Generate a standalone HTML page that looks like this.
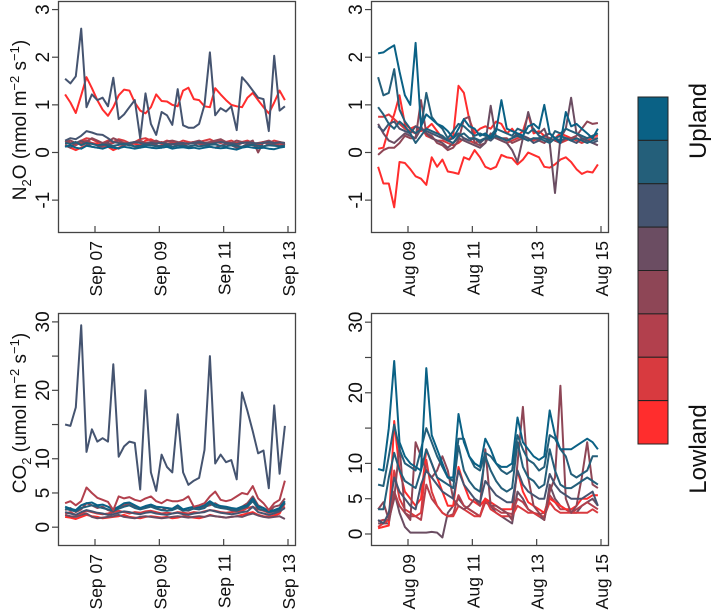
<!DOCTYPE html>
<html><head><meta charset="utf-8"><style>
body{margin:0;background:#fff}
svg{display:block;font-family:"Liberation Sans",Arial,sans-serif}
</style></head><body>
<svg id="chart" width="714" height="613" viewBox="0 0 714 613" xmlns="http://www.w3.org/2000/svg"></svg>
<script>
const seriesColors=["#0a6185","#245f7a","#455470","#6b4d62","#8e4656","#b2404d","#d83a3f","#ff2d2d"];
const legendLabels=["Upland","Lowland"];
const n2oTicks=[-1,0,1,2,3];
const co2Ticks=[0,5,10,15,20,25,30];
const co2TickLabels=["0","5","10","","20","","30"];
const sepDayTicks=[7,9,11,13];
const sepTickLabels=["Sep 07","Sep 09","Sep 11","Sep 13"];
const augDayTicks=[9,11,13,15];
const augTickLabels=["Aug 09","Aug 11","Aug 13","Aug 15"];
const sepStart=6.07, augStart=8.07, stepDays=0.1667;

const n2oSepDark=[1.55,1.45,1.6,2.6,0.95,1.22,1.1,1.15,0.97,1.57,0.7,0.8,0.95,1.1,0.3,1.24,0.6,0.37,0.85,0.78,0.58,1.33,0.57,0.52,0.52,0.6,1.0,2.1,0.78,0.93,0.86,0.97,0.47,1.58,1.45,1.3,1.15,1.12,0.45,2.03,0.88,0.97];
const n2oSepRed=[1.22,1.05,0.83,1.2,1.58,1.35,1.1,0.9,0.77,0.95,1.2,1.32,1.3,1.05,0.88,0.82,0.95,1.22,1.08,1.07,1.0,0.97,1.3,1.36,1.12,1.1,0.97,0.95,1.35,1.22,1.1,1.0,0.97,0.95,1.15,1.25,1.1,0.95,0.82,1.05,1.3,1.1];
const n2oSepL1=[0.12,0.15,0.1,0.08,0.14,0.12,0.1,0.08,0.12,0.1,0.09,0.12,0.1,0.08,0.1,0.12,0.1,0.09,0.1,0.12,0.08,0.1,0.11,0.09,0.1,0.08,0.1,0.12,0.1,0.09,0.1,0.08,0.06,0.1,0.12,0.1,0.09,0.1,0.08,0.07,0.1,0.12];
const n2oSepL2=[0.2,0.18,0.22,0.15,0.2,0.18,0.15,0.17,0.15,0.14,0.16,0.18,0.15,0.13,0.14,0.16,0.15,0.13,0.14,0.16,0.12,0.14,0.15,0.13,0.15,0.13,0.14,0.16,0.17,0.14,0.13,0.15,0.14,0.12,0.15,0.16,0.14,0.13,0.15,0.14,0.13,0.15];
const n2oSepL3=[0.25,0.3,0.28,0.35,0.45,0.42,0.38,0.37,0.3,0.22,0.2,0.18,0.2,0.22,0.2,0.18,0.2,0.19,0.2,0.18,0.17,0.19,0.2,0.18,0.2,0.22,0.2,0.18,0.2,0.22,0.2,0.19,0.18,0.2,0.21,0.2,0.19,0.2,0.22,0.2,0.21,0.2];
const n2oSepL4=[0.15,0.1,0.2,0.25,0.18,0.12,0.1,0.15,0.2,0.12,0.08,0.15,0.18,0.12,0.1,0.15,0.2,0.16,0.1,0.12,0.18,0.15,0.12,0.1,0.15,0.2,0.18,0.12,0.1,0.14,0.18,0.15,0.1,0.12,0.18,0.15,0.1,0.12,0.18,0.16,0.12,0.15];
const n2oSepL5=[0.22,0.25,0.2,0.18,0.22,0.3,0.25,0.2,0.22,0.3,0.25,0.2,0.18,0.22,0.25,0.2,0.22,0.25,0.2,0.23,0.25,0.22,0.2,0.18,0.22,0.25,0.2,0.22,0.25,0.28,0.22,0.2,0.25,0.22,0.2,0.25,0.0,0.22,0.25,0.2,0.22,0.2];
const n2oSepL6=[0.18,0.2,0.15,0.22,0.25,0.2,0.15,0.12,0.18,0.2,0.25,0.18,0.15,0.2,0.22,0.18,0.15,0.2,0.22,0.18,0.2,0.15,0.18,0.2,0.22,0.18,0.15,0.2,0.22,0.25,0.2,0.18,0.15,0.2,0.22,0.18,0.2,0.22,0.18,0.2,0.15,0.18];
const n2oSepL7=[0.25,0.2,0.18,0.25,0.3,0.28,0.22,0.2,0.25,0.22,0.28,0.25,0.2,0.22,0.28,0.3,0.25,0.22,0.2,0.25,0.22,0.2,0.25,0.22,0.2,0.22,0.25,0.28,0.22,0.2,0.22,0.25,0.2,0.22,0.25,0.2,0.18,0.22,0.2,0.25,0.22,0.18];
const n2oSepL8=[0.15,0.1,0.05,0.1,0.15,0.2,0.18,0.15,0.12,0.05,0.1,0.15,0.2,0.18,0.15,0.25,0.28,0.22,0.18,0.15,0.2,0.18,0.15,0.2,0.22,0.18,0.15,0.2,0.22,0.25,0.2,0.18,0.15,0.2,0.22,0.18,0.15,0.2,0.22,0.18,0.2,0.15];

const n2oAugT1=[2.08,2.1,2.18,2.25,1.7,1.2,1.0,2.3,0.55,0.8,0.7,0.6,0.55,0.45,0.3,0.5,0.7,0.55,0.5,0.35,0.4,0.3,0.45,1.1,0.5,0.45,0.4,0.35,0.55,0.6,0.5,1.0,0.4,0.3,0.2,0.85,0.55,0.6,0.5,0.4,0.3,0.5];
const n2oAugT2=[1.58,1.2,1.25,1.75,0.9,0.65,0.5,0.4,0.5,1.25,0.75,0.6,0.5,0.3,0.45,0.6,0.55,0.45,0.35,0.4,0.35,0.35,0.5,0.45,0.4,0.35,0.5,0.45,0.4,0.5,0.35,0.3,0.25,0.45,0.4,0.5,0.45,0.4,0.35,0.3,0.35,0.4];
const n2oAugT3=[0.95,0.8,0.6,0.5,0.65,0.55,0.4,0.2,0.35,0.5,0.45,0.4,0.35,0.25,0.2,0.35,0.4,0.3,0.3,0.25,0.3,0.3,0.35,0.3,0.25,0.3,0.35,0.3,0.25,0.3,0.3,0.25,0.2,0.3,0.35,0.3,0.25,0.3,0.25,0.2,0.25,0.3];
const n2oAugP1=[0.55,0.45,0.6,0.65,0.5,0.45,0.4,0.55,0.5,0.45,0.4,0.35,0.3,0.25,0.3,0.4,0.3,0.25,0.3,0.2,0.3,0.25,0.35,0.3,0.25,0.3,0.4,0.35,0.3,0.2,0.25,0.35,0.4,0.3,0.25,0.3,0.25,0.2,0.3,0.25,0.2,0.25];
const n2oAugP2=[0.6,0.4,0.25,0.2,0.3,0.4,0.35,0.3,0.5,0.4,0.3,0.25,0.2,0.1,0.2,0.3,0.25,0.2,0.15,0.1,0.2,0.98,0.3,0.25,0.2,0.05,-0.2,0.3,0.85,0.45,0.4,0.5,0.2,-0.85,0.3,0.5,1.15,0.4,0.3,0.25,0.2,0.15];
const n2oAugM1=[-0.05,0.05,0.1,0.1,0.2,0.35,0.3,0.3,1.1,0.4,0.35,0.2,0.15,0.05,0.1,0.25,0.7,0.75,0.2,0.15,0.2,0.4,0.3,0.3,0.3,0.2,0.25,0.3,0.25,0.3,0.25,0.2,0.3,0.25,0.2,0.3,0.3,0.35,0.5,0.65,0.6,0.62];
const n2oAugR1=[0.08,0.1,0.5,0.8,1.2,0.6,0.5,0.55,0.45,0.5,0.6,0.45,0.3,0.25,0.35,1.4,1.25,0.7,0.4,0.5,0.55,0.5,0.65,0.6,0.4,0.5,0.35,0.45,0.8,0.4,0.45,0.35,0.4,0.3,0.4,0.35,0.3,0.3,0.25,0.3,0.35,0.35];
const n2oAugR2=[0.75,0.75,0.8,0.7,0.6,0.5,0.45,0.4,0.55,0.35,0.3,0.25,0.25,0.2,0.15,0.2,0.3,0.25,0.2,0.25,0.3,0.35,0.3,0.25,0.2,0.25,0.3,0.35,0.3,0.25,0.3,0.35,0.3,0.25,0.2,0.25,0.3,0.25,0.2,0.25,0.3,0.3];
const n2oAugR3=[-0.3,-0.65,-0.65,-1.15,-0.2,-0.22,-0.35,-0.5,-0.55,-0.68,-0.1,-0.3,-0.15,-0.4,-0.42,-0.45,-0.1,-0.15,0.05,-0.1,-0.3,-0.35,-0.3,-0.05,-0.1,-0.12,-0.25,-0.15,0.0,-0.05,-0.1,-0.3,-0.32,-0.25,-0.15,-0.1,-0.2,-0.35,-0.45,-0.4,-0.42,-0.25];

const co2SepDark=[15,14.8,17.5,29.5,11,14.3,12.5,13,12.5,23.8,10.3,11.8,12.5,12.3,5.5,20,8,5.3,10.6,8.8,8,16.5,8,6.2,6.8,7.2,11.3,25,9.3,10.6,9.5,9.8,7,19.7,17,14,10.8,11.2,5.7,17.8,7.8,14.8];
const co2SepC1=[3.5,3.8,3.2,3.8,5.8,5,4.3,4,3.7,2.5,4.5,4.2,4.4,4,3.8,4.2,4.5,3.8,3.5,4,3.8,3.8,4,4.5,3,3.2,3.5,4.5,5.2,4,3.8,4,4.5,5,4.8,6,4.2,3.5,2.5,3.5,4,6.8];
const co2SepC2=[3,2.7,2.5,3.2,3.5,3.6,3.2,3.3,3,2.6,3,3.5,3.6,3.2,2.8,3.1,3.3,3,2.9,2.8,2.7,3.2,2.6,2.8,3,2.9,3.2,3.8,3.3,3.1,3,2.8,2.7,3,3.2,4.2,3,2.8,2.3,2.5,2.8,3.8];
const co2SepC3=[2.7,2.5,2.3,2.8,3,3.2,3,2.8,2.6,2.4,2.7,3,3.2,2.8,2.6,2.8,3,2.7,2.5,2.4,2.5,2.8,2.4,2.5,2.7,2.6,2.8,3.5,3,2.8,2.7,2.5,2.4,2.7,3,3.8,2.7,2.5,2.2,2.3,2.6,3.5];
const co2SepC4=[2.5,2.8,2.2,2.6,3.5,3.2,2.8,3,2.5,2.2,3,3.2,3.5,3,2.8,3,3.2,2.8,2.5,2.8,2.6,3,2.5,2.4,2.8,2.6,3,3.2,3.5,3,2.8,2.5,2.6,3,3.5,4.5,3.2,2.8,2.2,3,3.2,4.2];
const co2SepC5=[1.8,1.6,1.5,1.8,2,1.5,1.3,1.4,1.5,1.6,1.8,1.5,1.4,1.3,1.5,1.6,1.5,1.4,1.3,1.4,1.5,1.6,1.5,1.4,1.5,1.6,1.5,1.7,1.6,1.5,1.4,1.5,1.6,1.5,1.8,2,1.7,1.5,1.4,1.5,1.6,1.2];
const co2SepC6=[1.5,1.4,1.2,1.5,1.8,1.6,1.5,1.3,1.4,1.5,1.6,1.8,1.5,1.4,1.3,1.5,1.6,1.5,1.4,1.5,1.3,1.4,1.6,1.5,1.4,1.3,1.5,1.8,1.6,1.5,1.4,1.5,1.6,1.8,2,2.2,1.8,1.6,1.5,1.7,2,3.5];
const co2SepC7=[2,2.2,1.8,2,2.4,2.2,2,1.9,2,2.2,2.4,2.2,2,2.2,2.1,2.3,2.4,2.2,2,2.1,2,2.2,2.1,2,2.2,2.1,2.3,2.5,2.4,2.2,2.1,2.2,2.3,2.4,2.8,3,2.6,2.4,2.1,2.3,2.5,3];
const co2SepC8=[2.2,2,1.8,2.2,2.5,2.3,2.1,2,1.8,1.9,2.1,2.3,2.2,2,1.9,2.1,2.2,2,1.9,1.8,2,2.1,1.9,1.8,2,2.1,2.2,2.5,2.3,2.1,2,1.9,2,2.2,2.3,3,2.2,2,1.8,2,2.3,2.8];

const co2AugT1=[9.2,9,15,24.5,13,11,10,9.5,9,23.5,14,12,10,8,8,17,13,11,10,9.5,13.5,12,10,9.5,9.5,10,16.5,13,12,11,10.5,11,17.5,14,12,12,12,12.5,13,13.5,13,12];
const co2AugT2=[7,6.8,11,15.5,12,10,9.5,9,12,15,13,11,9.5,8,7.5,13.5,13.5,11,9.5,9,11.5,11,10,9,8.5,9,14,12,10.5,10,9,9.5,14,13.5,12,11,8.5,8,8.5,9,11,11];
const co2AugT3=[3.5,3.5,8,11.5,9,7.5,7,6.5,9,12,10,8,7.5,7,6.5,12.5,9,7.5,6.5,6,11,9,7.5,6.5,6,6.5,13,9.5,8,7.5,6.5,7,12,9,7,6.5,6.5,7,7.5,8,7.5,7];
const co2AugP1=[2,1.5,3,8,6,5,4,3.5,7,9,8,7,6,5.5,5,9,7,6,5,4.5,7.5,6.5,5.5,5,4.5,4.5,9,7,6,5.5,5,5,8.5,7,6,5.5,5,5,5,5.5,6,4];
const co2AugM1=[3.5,4.5,2,5,12.5,3,2,13,11,9,8,9,11,9,5,4,3.5,4,5,4,12,4,4,3.5,3,2,10,18,8,4,3,2,6,8,21,5,3,4,8,13,7,6.5];
const co2AugMg=[1.5,1.5,1.5,6,3,1,0.2,0.2,0.2,0.2,0.3,0.2,-0.5,3,4,5,4,3.5,3,2.5,5,4,3,2.5,2,1.5,6,5,3.5,3,2.5,2,7,5,4,3.5,3,3,4,4.5,5,4];
const co2AugR1=[0.8,1,1.2,16,9,6,5,4,5,12,10,8,6,4,4,9.5,7,5,4.5,4,5,4.5,4,3.5,3.5,3.5,9,6,4.5,4,3.5,3,5,4.5,4,3.5,3.5,4,5,5,5.5,5.5];
const co2AugR2=[1,1.5,2,9,5,3.5,3,2.5,3,10.5,6,4,3,2.5,2.5,4,3.5,3,2.5,2.5,5,3.5,3,2.5,2.5,2.5,4,3.5,3,3,2.5,2.5,4.5,3.5,3,3,3,3,3,3,3.5,3];
const co2AugR3=[1.8,2,2,6,4,3,2.5,2.5,2,7,5,4,3,2.5,2.8,5.5,4,3.5,3,2.5,4.5,4,3.5,3,3,2.8,5,4.5,3.5,3,2.8,3,5.5,4.5,3.5,3.5,3,3.5,4,4.5,4,3.5];

const svg=document.getElementById('chart');
const NS='http://www.w3.org/2000/svg';
function mk(tag,attrs,parent){const e=document.createElementNS(NS,tag);for(const k in attrs)e.setAttribute(k,attrs[k]);(parent||svg).appendChild(e);return e;}

const panels=[
 {name:'n2o-september',x0:58,x1:296,y0:1,y1:233,ymin:-1.69,ymax:3.18,yTicks:n2oTicks,yLabels:n2oTicks.map(String),xTicks:sepDayTicks,xLabels:sepTickLabels,start:sepStart,
  series:[[n2oSepL8,7],[n2oSepL7,6],[n2oSepL6,5],[n2oSepL5,4],[n2oSepL4,3],[n2oSepL3,2],[n2oSepL2,1],[n2oSepL1,0],[n2oSepRed,7],[n2oSepDark,2]]},
 {name:'n2o-august',x0:371,x1:609,y0:1,y1:233,ymin:-1.69,ymax:3.18,yTicks:n2oTicks,yLabels:n2oTicks.map(String),xTicks:augDayTicks,xLabels:augTickLabels,start:augStart,
  series:[[n2oAugR3,7],[n2oAugR2,6],[n2oAugR1,7],[n2oAugM1,4],[n2oAugP2,3],[n2oAugP1,2],[n2oAugT3,1],[n2oAugT2,1],[n2oAugT1,0]]},
 {name:'co2-september',x0:58,x1:296,y0:313,y1:546,ymin:-2.75,ymax:31.3,yTicks:co2Ticks,yLabels:co2TickLabels,xTicks:sepDayTicks,xLabels:sepTickLabels,start:sepStart,
  series:[[co2SepC6,7],[co2SepC5,3],[co2SepC7,6],[co2SepC8,2],[co2SepC4,4],[co2SepC3,1],[co2SepC2,0],[co2SepC1,5],[co2SepDark,2]]},
 {name:'co2-august',x0:371,x1:609,y0:313,y1:546,ymin:-1.7,ymax:31.3,yTicks:co2Ticks,yLabels:co2TickLabels,xTicks:augDayTicks,xLabels:augTickLabels,start:augStart,
  series:[[co2AugMg,3],[co2AugR3,5],[co2AugR2,6],[co2AugR1,7],[co2AugM1,4],[co2AugP1,2],[co2AugT3,1],[co2AugT2,1],[co2AugT1,0]]}
];
const tickPx={sep:[95,160,224,288],aug:[408,472,537,601]};
panels.forEach((p,pi)=>{
  const tp=(pi%2===0)?tickPx.sep:tickPx.aug;
  const pxPerDay=(tp[3]-tp[0])/(p.xTicks[3]-p.xTicks[0]);
  const xs=d=>tp[0]+(d-p.xTicks[0])*pxPerDay;
  const ys=v=>p.y1-(v-p.ymin)/(p.ymax-p.ymin)*(p.y1-p.y0);
  const g=mk('g',{});
  
  
  const cp=mk('clipPath',{id:'cp'+pi},g);
  mk('rect',{x:p.x0,y:p.y0,width:p.x1-p.x0,height:p.y1-p.y0},cp);
  const lines=mk('g',{'clip-path':'url(#cp'+pi+')'},g);
  p.series.forEach((s,si)=>{
    const vals=s[0];
    const pts=vals.map((v,i)=>xs(p.start+i*stepDays).toFixed(1)+','+ys(v).toFixed(1)).join(' ');
    const pl=mk('polyline',{points:pts,fill:'none',stroke:seriesColors[s[1]],'stroke-width':2,'stroke-linejoin':'round'},lines);
    
    
  });
  const box=mk('rect',{x:p.x0+0.5,y:p.y0+0.5,width:p.x1-p.x0-1,height:p.y1-p.y0-1,fill:'none',stroke:'#444','stroke-width':1.3},g);
  
  
  p.yTicks.forEach((t,i)=>{
    const y=ys(t);
    mk('line',{x1:p.x0-6,x2:p.x0,y1:y,y2:y,stroke:'#444','stroke-width':1.2},g);
    if(p.yLabels[i]!==''){
      const lx=p.x0-9;
      const tx=mk('text',{x:lx,y:y,transform:'rotate(-90 '+lx+' '+y+')','text-anchor':'middle','font-size':19,fill:'#111'},g);
      tx.textContent=p.yLabels[i];
      
      
    }
  });
  p.xTicks.forEach((t,i)=>{
    const x=xs(t);
    mk('line',{x1:x,x2:x,y1:p.y1,y2:p.y1-7,stroke:'#444','stroke-width':1.2},g);
    const ly=p.y1+8, lx=x+7;
    const tx=mk('text',{x:lx,y:ly,transform:'rotate(-90 '+lx+' '+ly+')','text-anchor':'end','font-size':17.5,fill:'#111'},g);
    tx.textContent=p.xLabels[i];
    
    
  });
});
const t1=mk('text',{x:26,y:120,transform:'rotate(-90 26 120)','text-anchor':'middle','font-size':19,fill:'#111'});


t1.innerHTML='N<tspan font-size="13" dy="5">2</tspan><tspan dy="-5">O (nmol m</tspan><tspan font-size="13" dy="-7">−2</tspan><tspan dy="7"> s</tspan><tspan font-size="13" dy="-7">−1</tspan><tspan dy="7">)</tspan>';
const t2=mk('text',{x:26,y:413,transform:'rotate(-90 26 413)','text-anchor':'middle','font-size':19,fill:'#111'});


t2.innerHTML='CO<tspan font-size="13" dy="5">2</tspan><tspan dy="-5"> (umol m</tspan><tspan font-size="13" dy="-7">−2</tspan><tspan dy="7"> s</tspan><tspan font-size="13" dy="-7">−1</tspan><tspan dy="7">)</tspan>';
const lg=mk('g',{});


const lx0=638,lw=30,ly0=97,ly1=444,ch=(ly1-ly0)/seriesColors.length;
seriesColors.forEach((c,i)=>{
  const r=mk('rect',{x:lx0,y:ly0+i*ch,width:lw,height:ch,fill:c,stroke:'#222','stroke-width':1},lg);
  
  
});
const up=mk('text',{x:706,y:121,transform:'rotate(-90 706 121)','text-anchor':'middle','font-size':24,fill:'#111'},lg);
up.textContent=legendLabels[0];


const lo=mk('text',{x:706,y:449,transform:'rotate(-90 706 449)','text-anchor':'middle','font-size':24,fill:'#111'},lg);
lo.textContent=legendLabels[1];


</script>
</body></html>
